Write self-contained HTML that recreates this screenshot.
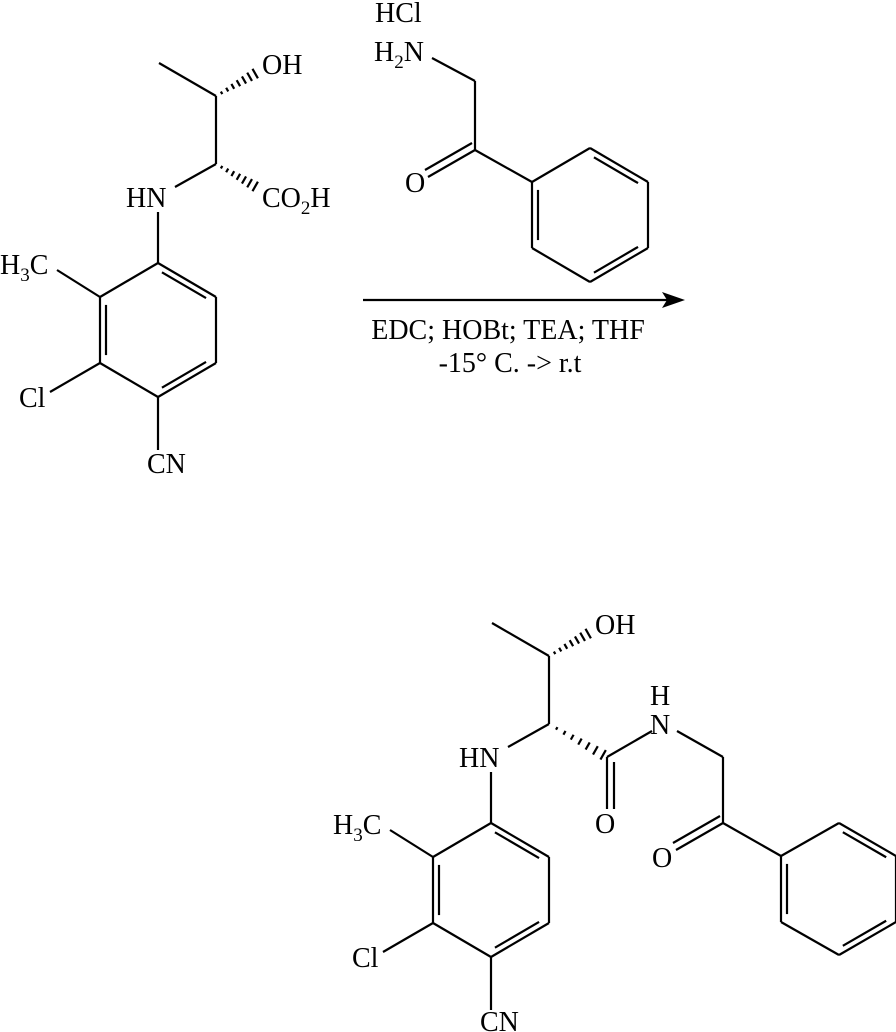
<!DOCTYPE html>
<html><head><meta charset="utf-8"><style>
html,body{margin:0;padding:0;background:#fff;}
svg{display:block;}
text{font-family:"Liberation Serif",serif;font-size:28px;fill:#000;}
</style></head><body>
<svg id="s" width="896" height="1032" viewBox="0 0 896 1032" xmlns="http://www.w3.org/2000/svg">
<g stroke="#000" stroke-width="2.2" fill="none" id="b"></g>
<polygon points="685,300 662,292 667,300 662,308" fill="#000"/>
<line x1="363" y1="300" x2="670" y2="300" stroke="#000" stroke-width="2.2"/>
<!-- mol 1 -->
<text x="262" y="74">OH</text>
<text x="126" y="207">HN</text>
<text x="262" y="207">CO<tspan font-size="19" dy="7">2</tspan><tspan dy="-7">H</tspan></text>
<text x="0" y="274">H<tspan font-size="19" dy="7">3</tspan><tspan dy="-7">C</tspan></text>
<text x="19" y="407">Cl</text>
<text x="147" y="473">CN</text>
<!-- reagent -->
<text x="375" y="22">HCl</text>
<text x="374" y="61">H<tspan font-size="19" dy="7">2</tspan><tspan dy="-7">N</tspan></text>
<text x="405" y="192">O</text>
<text x="508" y="339" text-anchor="middle">EDC; HOBt; TEA; THF</text>
<text x="510" y="372" text-anchor="middle">-15° C. -&gt; r.t</text>
<!-- mol 2 -->
<text x="595" y="634">OH</text>
<text x="459" y="767">HN</text>
<text x="333" y="834">H<tspan font-size="19" dy="7">3</tspan><tspan dy="-7">C</tspan></text>
<text x="352" y="967">Cl</text>
<text x="480" y="1031">CN</text>
<text x="595" y="833">O</text>
<text x="650" y="705">H</text>
<text x="650" y="734">N</text>
<text x="652" y="867">O</text>
</svg>
<script>
const g=document.getElementById('b');
function L(a,b,c,d){const l=document.createElementNS('http://www.w3.org/2000/svg','line');l.setAttribute('x1',a);l.setAttribute('y1',b);l.setAttribute('x2',c);l.setAttribute('y2',d);g.appendChild(l);}
function H(a,b,c,d){const dx=c-a,dy=d-b,len=Math.hypot(dx,dy),px=-dy/len,py=dx/len;for(let i=1;i<=7;i++){const t=i/7.5,x=a+dx*t,y=b+dy*t,w=0.8+t*5;L(x-px*w,y-py*w,x+px*w,y+py*w);}}
function D(a,b,c,d,cx,cy){
 const mx=(a+c)/2,my=(b+d)/2;let vx=cx-mx,vy=cy-my;const n=Math.hypot(vx,vy);vx=vx/n*6;vy=vy/n*6;
 const sx=(c-a)*0.12,sy=(d-b)*0.12;L(a+vx+sx,b+vy+sy,c+vx-sx,d+vy-sy);}
function mol(ox,oy){
 const p=(x,y)=>[x+ox,y+oy];
 let m=p(159,63),c1=p(216,96),ca=p(216,164);
 L(...m,...c1);L(...c1,...ca);H(...c1,...p(258,72));
 L(...ca,...p(175,187));L(...p(158,212),...p(158,263));
 const r=[p(158,263),p(216,297),p(216,363),p(158,397),p(100,363),p(100,297)];
 const cx=158+ox,cy=330+oy;
 for(let i=0;i<6;i++){const a=r[i],b=r[(i+1)%6];L(...a,...b);}
 D(...r[0],...r[1],cx,cy);D(...r[2],...r[3],cx,cy);D(...r[4],...r[5],cx,cy);
 L(...r[5],...p(57,270));L(...r[4],...p(50,392));L(...r[3],...p(158,450));
 return ca;
}
mol(0,0);
H(216,164,258,188);
mol(333,560);
H(549,724,607,757);
L(607,757,652,731);L(607,757,607,809);L(614,762,614,809);
L(677,731,723,757);L(723,757,723,823);
L(723,823,676,850);L(720,816,673,843);
L(723,823,781,856);
const r2=[[781,856],[839,823],[896,856],[896,922],[839,955],[781,922]];
for(let i=0;i<6;i++){const a=r2[i],b=r2[(i+1)%6];L(...a,...b);}
D(...r2[1],...r2[2],839,889);D(...r2[3],...r2[4],839,889);D(...r2[5],...r2[0],839,889);
L(432,58,475,81);L(475,81,475,150);L(475,150,428,177);L(472,143,425,170);L(475,150,532,182);
const r3=[[532,182],[590,148],[648,182],[648,248],[590,282],[532,248]];
for(let i=0;i<6;i++){const a=r3[i],b=r3[(i+1)%6];L(...a,...b);}
D(...r3[1],...r3[2],590,215);D(...r3[3],...r3[4],590,215);D(...r3[5],...r3[0],590,215);
</script>
</body></html>
